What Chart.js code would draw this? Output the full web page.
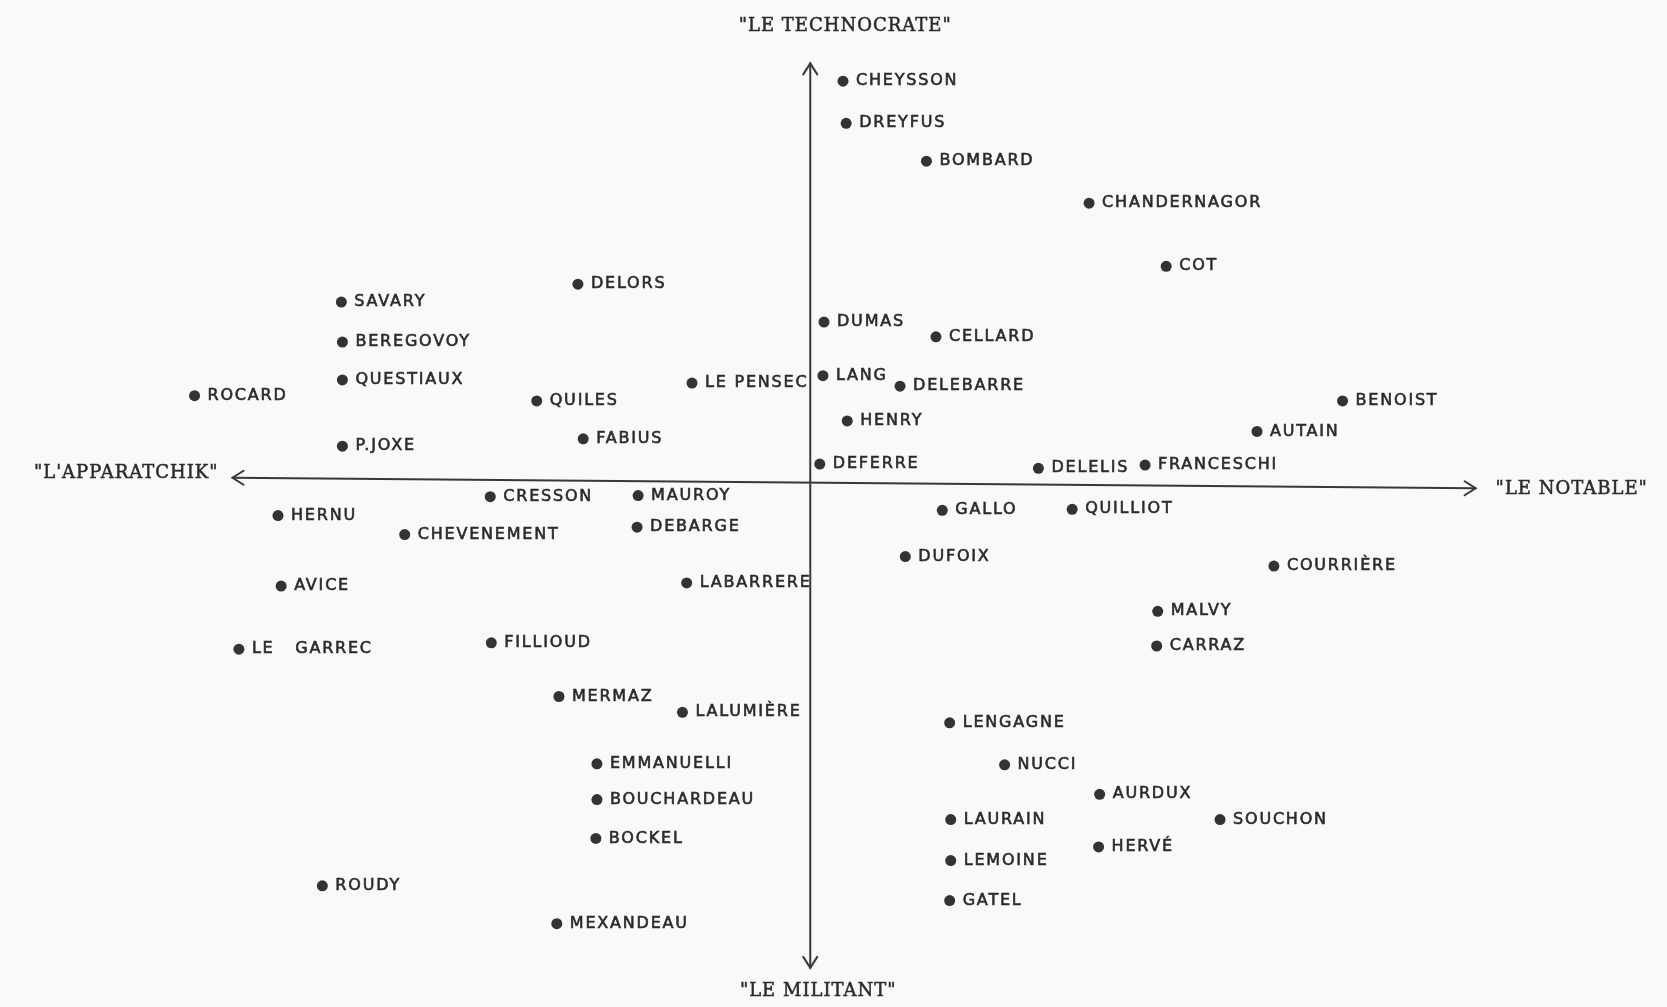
<!DOCTYPE html>
<html>
<head>
<meta charset="utf-8">
<script src="https://cdn.jsdelivr.net/npm/chart.js@4.4.0/dist/chart.umd.min.js"></script>
<style>
  html, body { margin: 0; padding: 0; background: #f9f9f7; }
  #wrap { width: 1667px; height: 1007px; }
</style>
</head>
<body>
<div id="wrap"><canvas id="map"></canvas></div>
<script>
// Positions of the ministers on the two axes
const names = [
    'SAVARY', 'BEREGOVOY', 'QUESTIAUX', 'ROCARD', 'P.JOXE', 'DELORS', 'QUILES', 'FABIUS', 'LE PENSEC',
    'CHEYSSON', 'DREYFUS', 'BOMBARD', 'CHANDERNAGOR', 'COT', 'DUMAS', 'CELLARD', 'LANG', 'DELEBARRE',
    'HENRY', 'DEFERRE', 'DELELIS', 'FRANCESCHI', 'AUTAIN', 'BENOIST',
    'CRESSON', 'MAUROY', 'HERNU', 'CHEVENEMENT', 'DEBARGE', 'AVICE', 'LABARRERE', 'LE   GARREC',
    'FILLIOUD', 'MERMAZ', 'LALUMIÈRE', 'EMMANUELLI', 'BOUCHARDEAU', 'BOCKEL', 'ROUDY', 'MEXANDEAU',
    'GALLO', 'QUILLIOT', 'DUFOIX', 'COURRIÈRE', 'MALVY', 'CARRAZ', 'LENGAGNE', 'NUCCI', 'AURDUX',
    'SOUCHON', 'LAURAIN', 'HERVÉ', 'LEMOINE', 'GATEL'
];
const notable = [
    -44.4, -44.3, -44.3, -58.3, -44.3, -22.0, -25.9, -21.5, -11.2,
    3.1, 3.4, 11.0, 26.4, 33.7, 1.3, 11.9, 1.2, 8.5,
    3.5, 0.9, 21.6, 31.7, 42.3, 50.4,
    -30.3, -16.3, -50.4, -38.4, -16.4, -50.1, -11.7, -54.1,
    -30.2, -23.8, -12.1, -20.2, -20.2, -20.3, -46.2, -24.0,
    12.5, 24.8, 9.0, 43.9, 32.9, 32.8, 13.2, 18.4, 27.4,
    38.8, 13.3, 27.3, 13.3, 13.2
];
const technocrate = [
    17.1, 13.3, 9.7, 8.2, 3.4, 18.8, 7.7, 4.1, 9.4,
    38.1, 34.1, 30.5, 26.5, 20.5, 15.2, 13.8, 10.1, 9.1,
    5.8, 1.7, 1.3, 1.6, 4.8, 7.7,
    -1.4, -1.3, -3.2, -5.0, -4.3, -9.9, -9.6, -15.9,
    -15.3, -20.4, -21.9, -26.8, -30.2, -33.9, -38.4, -42.0,
    -2.7, -2.6, -7.1, -8.0, -12.3, -15.6, -22.9, -26.9, -29.7,
    -32.1, -32.1, -34.7, -36.0, -39.8
];

// Hand-drawn axes: ends of the horizontal line (slightly tilted) and of the vertical one
const hAxisX = [-54.7, 63.0];
const hAxisY = [0.4, -0.6];
const vAxisY = [-46.2, 39.8];
const axisTitles = ['"LE TECHNOCRATE"', '"LE NOTABLE"', '"LE MILITANT"', '"L\'APPARATCHIK"'];

const ink = '#2b2b2b';

const points = names.map((n, i) => ({ x: notable[i], y: technocrate[i], label: n }));

function chevron(ctx, x, y, dir) {
    const s = 11, w = 7;
    ctx.beginPath();
    if (dir === 'left') { ctx.moveTo(x + s, y - w); ctx.lineTo(x, y); ctx.lineTo(x + s, y + w); }
    if (dir === 'right') { ctx.moveTo(x - s, y - w); ctx.lineTo(x, y); ctx.lineTo(x - s, y + w); }
    if (dir === 'up') { ctx.moveTo(x - w, y + s); ctx.lineTo(x, y); ctx.lineTo(x + w, y + s); }
    if (dir === 'down') { ctx.moveTo(x - w, y - s); ctx.lineTo(x, y); ctx.lineTo(x + w, y - s); }
    ctx.stroke();
}

const crossAxes = {
    id: 'crossAxes',
    beforeDatasetsDraw(chart) {
        const { ctx, scales: { x, y } } = chart;
        const x0 = x.getPixelForValue(0);
        const left = x.getPixelForValue(hAxisX[0]), right = x.getPixelForValue(hAxisX[1]);
        const yl = y.getPixelForValue(hAxisY[0]), yr = y.getPixelForValue(hAxisY[1]);
        const top = y.getPixelForValue(vAxisY[1]), bottom = y.getPixelForValue(vAxisY[0]);
        ctx.save();
        ctx.strokeStyle = '#383838';
        ctx.lineWidth = 2;
        ctx.lineCap = 'round';
        ctx.beginPath();
        ctx.moveTo(left, yl); ctx.lineTo(right, yr);
        ctx.moveTo(x0, top); ctx.lineTo(x0, bottom);
        ctx.stroke();
        chevron(ctx, left, yl, 'left');
        chevron(ctx, right, yr, 'right');
        chevron(ctx, x0, top, 'up');
        chevron(ctx, x0, bottom, 'down');

        // typewritten end titles
        ctx.fillStyle = ink;
        ctx.strokeStyle = ink;
        ctx.lineWidth = 0.5;
        ctx.font = '18px "DejaVu Serif"';
        ctx.letterSpacing = '1px';
        ctx.textBaseline = 'middle';
        const titles = [
            [axisTitles[0], x0 + 35, top - 37, 'center'],
            [axisTitles[2], x0 + 8, bottom + 23, 'center'],
            [axisTitles[1], right + 20, yr + 1, 'left'],
            [axisTitles[3], left - 14, yl - 4, 'right']
        ];
        titles.forEach(([t, tx, ty, align]) => {
            ctx.textAlign = align;
            ctx.fillText(t, tx, ty);
            ctx.strokeText(t, tx, ty);
        });
        ctx.restore();
    }
};

const pointNames = {
    id: 'pointNames',
    afterDatasetsDraw(chart) {
        const { ctx } = chart;
        const meta = chart.getDatasetMeta(0);
        ctx.save();
        ctx.fillStyle = ink;
        ctx.strokeStyle = ink;
        ctx.lineWidth = 0.6;
        ctx.font = '16px "DejaVu Sans"';
        ctx.letterSpacing = '1.8px';
        ctx.textAlign = 'left';
        ctx.textBaseline = 'middle';
        meta.data.forEach((el, i) => {
            ctx.fillText(points[i].label, el.x + 13, el.y);
            ctx.strokeText(points[i].label, el.x + 13, el.y);
        });
        ctx.restore();
    }
};

new Chart(document.getElementById('map'), {
    type: 'scatter',
    data: {
        datasets: [{
            data: points,
            pointRadius: 5.5,
            pointHoverRadius: 5.5,
            backgroundColor: '#333',
            borderWidth: 0
        }]
    },
    options: {
        responsive: true,
        maintainAspectRatio: false,
        animation: false,
        layout: { padding: 0 },
        plugins: {
            legend: { display: false },
            tooltip: { enabled: false }
        },
        scales: {
            x: { type: 'linear', min: -76.2, max: 80.6, display: false },
            y: { type: 'linear', min: -49.4, max: 45.3, display: false }
        }
    },
    plugins: [crossAxes, pointNames]
});
</script>
</body>
</html>
